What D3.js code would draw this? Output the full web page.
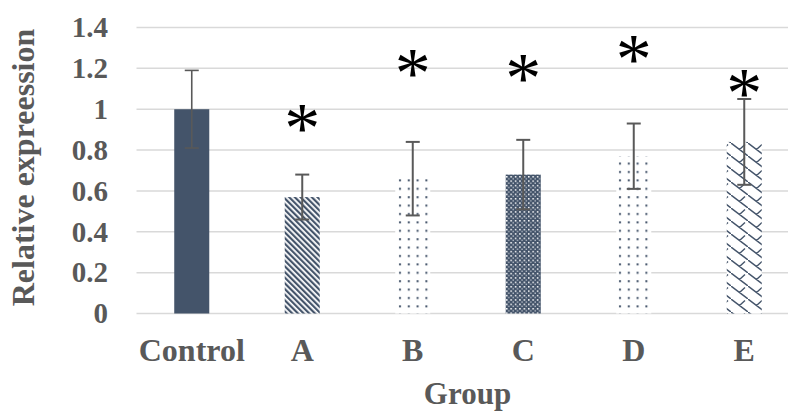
<!DOCTYPE html>
<html>
<head>
<meta charset="utf-8">
<script src="https://cdnjs.cloudflare.com/ajax/libs/d3/7.8.5/d3.min.js"></script>
<style>
  body { margin: 0; background: #fff; }
  svg { display: block; }
  text { font-family: "Liberation Serif", "Times New Roman", serif; font-weight: bold; }
</style>
</head>
<body>
<div id="chart"></div>
<script>
// chart data
var groups = ["Control", "A", "B", "C", "D", "E"];
var means = [1.0, 0.57, 0.66, 0.68, 0.77, 0.84];
var errLow = [0.81, 0.46, 0.48, 0.51, 0.61, 0.63];
var errHigh = [1.19, 0.68, 0.84, 0.85, 0.93, 1.05];
var patterns = ["solid", "stripes", "dots", "grid", "dots", "shingle"];
// level (in y units) where the significance star sits, null = no star
var starLevel = [null, 0.957, 1.226, 1.20, 1.294, 1.128];
var yTicks = [0, 0.2, 0.4, 0.6, 0.8, 1, 1.2, 1.4];

var W = 788, H = 411;
var barColor = "#44546A", textColor = "#595959";
var serif = '"Liberation Serif", "Times New Roman", serif';

var svg = d3.select("#chart")
    .append("svg")
    .attr("width", W)
    .attr("height", H);

var x = d3.scaleBand()
    .domain(groups)
    .range([136.5, 799.5])
    .paddingInner(0.683)
    .paddingOuter(0.3415);

var y = d3.scaleLinear()
    .domain([0, 1.4])
    .range([313.5, 27.5]);

// fill patterns
var defs = svg.append("defs");

var p1 = defs.append("pattern")
    .attr("id", "stripes")
    .attr("patternUnits", "userSpaceOnUse")
    .attr("width", 4).attr("height", 4)
    .attr("patternTransform", "rotate(-45)");
p1.append("rect").attr("width", 4).attr("height", 4).attr("fill", "#fff");
p1.append("rect").attr("width", 2.2).attr("height", 4).attr("fill", barColor);

var p2 = defs.append("pattern")
    .attr("id", "dots")
    .attr("patternUnits", "userSpaceOnUse")
    .attr("width", 8.8).attr("height", 8.4);
p2.append("rect").attr("width", 8.8).attr("height", 8.4).attr("fill", "#fff");
p2.append("rect").attr("x", 3).attr("y", 3).attr("width", 2).attr("height", 2).attr("fill", barColor);

var p3 = defs.append("pattern")
    .attr("id", "grid")
    .attr("patternUnits", "userSpaceOnUse")
    .attr("width", 4.4).attr("height", 4.4);
p3.append("rect").attr("width", 4.4).attr("height", 4.4).attr("fill", barColor);
p3.append("rect").attr("x", 0).attr("y", 0).attr("width", 1.5).attr("height", 1.5).attr("fill", "#fff");
p3.append("rect").attr("x", 2.2).attr("y", 2.2).attr("width", 1.2).attr("height", 1.2).attr("fill", "#dde1e8");

var p4 = defs.append("pattern")
    .attr("id", "shingle")
    .attr("patternUnits", "userSpaceOnUse")
    .attr("width", 17).attr("height", 13);
p4.append("rect").attr("width", 17).attr("height", 13).attr("fill", "#fff");
p4.append("path")
    .attr("d", "M0,0 L17,13 M8.5,6.5 L14,1.5 M-8.5,6.5 L-3,1.5 M8.5,19.5 L14,14.5 M-8.5,-6.5 L-3,-11.5 M8.5,-6.5 L14,-11.5")
    .attr("fill", "none")
    .attr("stroke", barColor)
    .attr("stroke-width", 1.4);

// horizontal gridlines
svg.append("g")
    .selectAll("line")
    .data(yTicks)
    .enter()
    .append("line")
    .attr("x1", 136.5)
    .attr("x2", W)
    .attr("y1", function(d){ return y(d); })
    .attr("y2", function(d){ return y(d); })
    .attr("stroke", "#D9D9D9")
    .attr("stroke-width", 1.5);

// y axis labels
var yAxis = svg.append("g")
    .attr("transform", "translate(136.5,0)")
    .attr("font-family", serif)
    .call(d3.axisLeft(y).tickValues(yTicks).tickSize(0).tickPadding(28.5)
        .tickFormat(function(d){ return String(+d.toFixed(1)); }));
yAxis.attr("font-family", serif);
yAxis.select(".domain").remove();
yAxis.selectAll("text")
    .attr("fill", textColor)
    .style("font-family", serif)
    .style("font-weight", "bold")
    .style("font-size", "29px");

// x axis labels
var xAxis = svg.append("g")
    .attr("transform", "translate(0,313.5)")
    .call(d3.axisBottom(x).tickSize(0).tickPadding(25));
xAxis.attr("font-family", serif);
xAxis.select(".domain").remove();
xAxis.selectAll("text")
    .attr("fill", textColor)
    .style("font-family", serif)
    .style("font-weight", "bold")
    .style("font-size", "32px");

// bars
svg.selectAll("rect.bar")
    .data(groups)
    .enter()
    .append("rect")
    .attr("class", "bar")
    .attr("x", function(d){ return x(d); })
    .attr("width", x.bandwidth())
    .attr("y", function(d, i){ return y(means[i]); })
    .attr("height", function(d, i){ return y(0) - y(means[i]); })
    .attr("fill", function(d, i){
        return patterns[i] === "solid" ? barColor : "url(#" + patterns[i] + ")";
    });

// error bars
var eb = svg.append("g")
    .attr("stroke", "#595959");
groups.forEach(function(g, i) {
    var cx = x(g) + x.bandwidth() / 2;
    var sw = i === 0 ? 1.6 : 2;
    eb.append("line")
        .attr("stroke-width", sw)
        .attr("x1", cx).attr("x2", cx)
        .attr("y1", y(errLow[i])).attr("y2", y(errHigh[i]));
    eb.append("line")
        .attr("stroke-width", sw)
        .attr("x1", cx - 7).attr("x2", cx + 7)
        .attr("y1", y(errLow[i])).attr("y2", y(errLow[i]));
    eb.append("line")
        .attr("stroke-width", sw)
        .attr("x1", cx - 7).attr("x2", cx + 7)
        .attr("y1", y(errHigh[i])).attr("y2", y(errHigh[i]));
});

// significance stars
svg.selectAll("text.star")
    .data(groups.filter(function(d, i){ return starLevel[i] != null; }))
    .enter()
    .append("text")
    .attr("class", "star")
    .attr("x", function(d){ return x(d) + x.bandwidth() / 2; })
    .attr("y", function(d){ return y(starLevel[groups.indexOf(d)]) + 34; })
    .attr("text-anchor", "middle")
    .style("font-size", "72px")
    .style("font-weight", "normal")
    .attr("fill", "#000")
    .text("*");

// axis titles
svg.append("text")
    .attr("x", 467.5)
    .attr("y", 404)
    .attr("text-anchor", "middle")
    .attr("fill", textColor)
    .style("font-size", "31px")
    .text("Group");

svg.append("text")
    .attr("transform", "translate(34,167.5) rotate(-90)")
    .attr("text-anchor", "middle")
    .attr("fill", textColor)
    .style("font-size", "32px")
    .text("Relative expreession");
</script>
</body>
</html>
